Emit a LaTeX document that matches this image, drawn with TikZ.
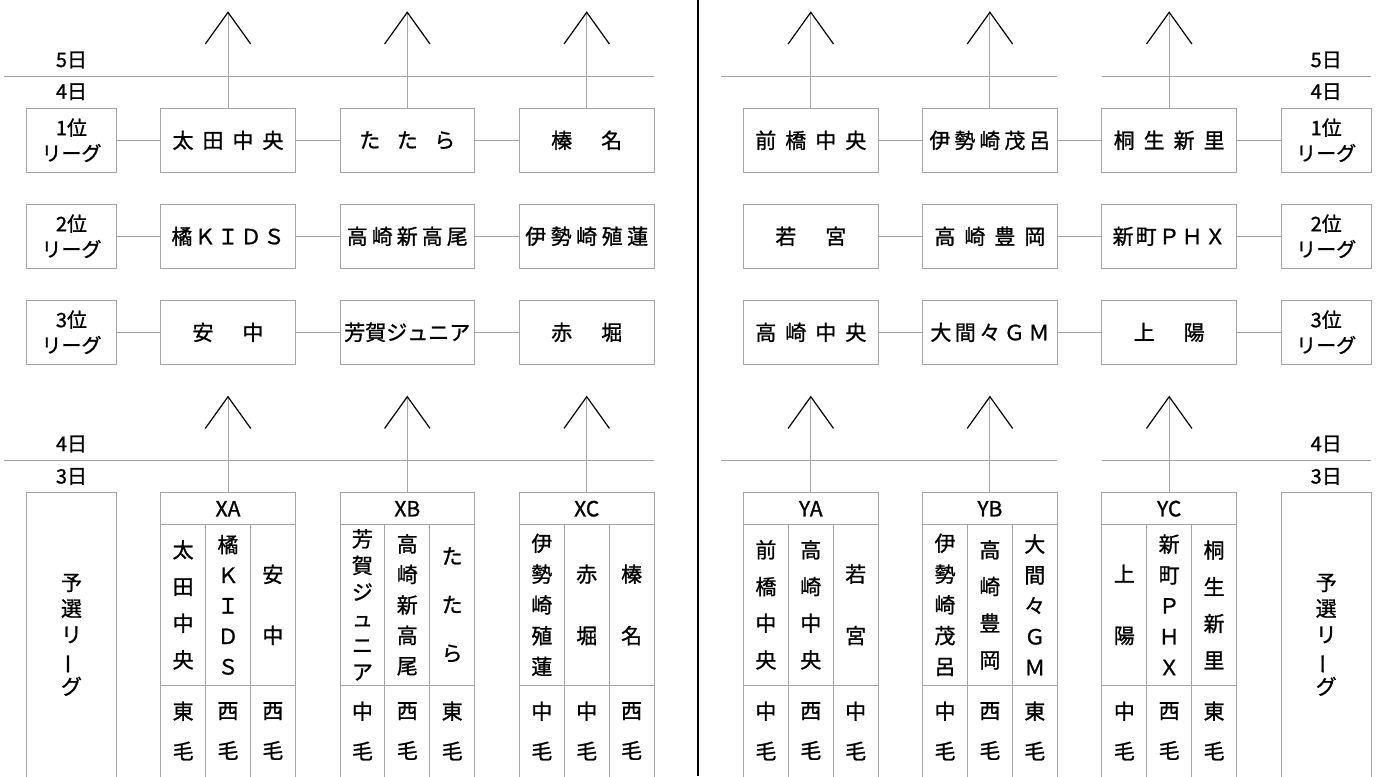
\documentclass[tikz,border=0pt]{standalone}
\usepackage{fontspec}
\setmainfont{Noto Sans CJK JP}[FakeBold=1]
\usepackage{graphicx}
\definecolor{ln}{RGB}{165,165,165}
\newcommand\spc[2]{\def\spcgap{#1}\spcfirst#2\relax}
\def\spcfirst#1{#1\spcloop}
\def\spcloop#1{\ifx#1\relax\else\kern\spcgap pt\relax#1\expandafter\spcloop\fi}
\newcommand\vbar{\rotatebox[origin=c]{90}{ー}}
\tikzset{
 box/.style={draw=ln, line width=1pt, minimum width=134.6pt, minimum height=64pt, inner sep=0pt, font=\fontsize{21}{25}\selectfont},
 lab/.style={draw=ln, line width=1pt, minimum width=89.6pt, minimum height=64pt, inner sep=0pt, align=center, font=\fontsize{20}{25.5}\selectfont},
 conn/.style={draw=ln, line width=1pt},
 chev/.style={draw=black, line width=1.2pt},
 day/.style={font=\fontsize{20}{22}\selectfont, inner sep=0pt},
 hdr/.style={draw=ln, line width=1pt, minimum width=134.6pt, minimum height=32pt, inner sep=0pt, font=\fontsize{21}{24}\selectfont},
 cell/.style={draw=ln, line width=1pt, minimum width=44.87pt, minimum height=160.3pt, inner sep=0pt, align=center},
 vc/.style={font=\fontsize{21}{#1}\selectfont},
 bcell/.style={draw=ln, line width=1pt, minimum width=44.87pt, minimum height=92pt, inner sep=0pt, align=center, font=\fontsize{21}{40}\selectfont},
 pre/.style={draw=ln, line width=1pt, minimum width=89.6pt, minimum height=284.3pt, inner sep=0pt, align=center, font=\fontsize{21}{26}\selectfont},
}
\newcommand\mktable[9]{%
 \node[hdr] (#1) at (#2,508.7) {#3};
 \node[cell,vc=#4] (#1-1) at ({#2-44.87},604.85) {#5};
 \node[cell,vc=#6] (#1-2) at (#2,604.85) {#7};
 \node[cell,vc=#8] (#1-3) at ({#2+44.87},604.85) {#9};
}
\newcommand\mkbot[5]{%
 \node[bcell] (#1-b1) at ({#2-44.87},731) {#3};
 \node[bcell] (#1-b2) at (#2,731) {#4};
 \node[bcell] (#1-b3) at ({#2+44.87},731) {#5};
}
\newcommand\mkarrow[3]{% #1 name of start node, #2 x, #3 apex y
 \coordinate (#1-apex) at (#2,#3);
 \draw[conn] (#1.north) -- (#1-apex);
 \draw[chev] ([shift={(-22.7,31.7)}]#1-apex) -- (#1-apex) -- ([shift={(22.7,31.7)}]#1-apex);
}
\begin{document}
\begin{tikzpicture}[x=1pt,y=-1pt]
\useasboundingbox (0,0) rectangle (1383,776);
\clip (0,0) rectangle (1383,776);
\fill[white] (0,0) rectangle (1383,776);

% divider
\coordinate (VT) at (698.3,0);
\coordinate (VB) at (698.3,776);
\draw[black, line width=2pt] (VT) -- (VB);

% date lines
\coordinate (LT1) at (4,76.3);    \coordinate (LT2) at (654,76.3);
\coordinate (LB1) at (4,460.3);   \coordinate (LB2) at (654,460.3);
\coordinate (RT1) at (721,76.3);  \coordinate (RT2) at (1057.3,76.3);
\coordinate (RT3) at (1102,76.3); \coordinate (RT4) at (1370.7,76.3);
\coordinate (RB1) at (721,460.3); \coordinate (RB2) at (1057.3,460.3);
\coordinate (RB3) at (1102,460.3);\coordinate (RB4) at (1370.7,460.3);
\draw[conn] (LT1) -- (LT2);
\draw[conn] (LB1) -- (LB2);
\draw[conn] (RT1) -- (RT2);
\draw[conn] (RT3) -- (RT4);
\draw[conn] (RB1) -- (RB2);
\draw[conn] (RB3) -- (RB4);

% date labels
\node[day] (d5L) at (71.5,60) {5日};
\node[day] (d4L) at (71.5,91.7) {4日};
\node[day] (d4Lb) at (71.5,444) {4日};
\node[day] (d3L) at (71.5,476.5) {3日};
\node[day] (d5R) at (1326.2,60) {5日};
\node[day] (d4R) at (1326.2,91.7) {4日};
\node[day] (d4Rb) at (1326.2,444) {4日};
\node[day] (d3R) at (1326.2,476.5) {3日};

% left final rows
\node[lab] (LL1) at (71.5,140.3) {1位\\リーグ};
\node[lab] (LL2) at (71.5,236.3) {2位\\リーグ};
\node[lab] (LL3) at (71.5,332.3) {3位\\リーグ};
\node[box] (L11) at (228,140.3) {\spc{9}{太田中央}};
\node[box] (L12) at (407.3,140.3) {\spc{16.5}{たたら}};
\node[box] (L13) at (586.7,140.3) {\spc{4}{榛　名}};
\node[box] (L21) at (228,236.3) {\spc{2}{橘ＫＩＤＳ}};
\node[box] (L22) at (407.3,236.3) {\spc{4}{高崎新高尾}};
\node[box] (L23) at (586.7,236.3) {\spc{4.5}{伊勢崎殖蓮}};
\node[box] (L31) at (228,332.3) {\spc{4}{安　中}};
\node[box] (L32) at (407.3,332.3) {\spc{0}{芳賀ジュニア}};
\node[box] (L33) at (586.7,332.3) {\spc{4}{赤　堀}};
\foreach \r in {1,2,3}{
 \draw[conn] (LL\r) -- (L\r1);
 \draw[conn] (L\r1) -- (L\r2);
 \draw[conn] (L\r2) -- (L\r3);
}

% right final rows
\node[box] (R11) at (810.8,140.3) {\spc{9}{前橋中央}};
\node[box] (R12) at (989.9,140.3) {\spc{4}{伊勢崎茂呂}};
\node[box] (R13) at (1169.2,140.3) {\spc{9}{桐生新里}};
\node[box] (R21) at (810.8,236.3) {\spc{4}{若　宮}};
\node[box] (R22) at (989.9,236.3) {\spc{9}{高崎豊岡}};
\node[box] (R23) at (1169.2,236.3) {\spc{2}{新町ＰＨＸ}};
\node[box] (R31) at (810.8,332.3) {\spc{9}{高崎中央}};
\node[box] (R32) at (989.9,332.3) {\spc{3.5}{大間々ＧＭ}};
\node[box] (R33) at (1169.2,332.3) {\spc{4}{上　陽}};
\node[lab] (RL1) at (1326.2,140.3) {1位\\リーグ};
\node[lab] (RL2) at (1326.2,236.3) {2位\\リーグ};
\node[lab] (RL3) at (1326.2,332.3) {3位\\リーグ};
\foreach \r in {1,2,3}{
 \draw[conn] (R\r1) -- (R\r2);
 \draw[conn] (R\r2) -- (R\r3);
 \draw[conn] (R\r3) -- (RL\r);
}

% top arrows
\mkarrow{L11}{228}{12.3}
\mkarrow{L12}{407.3}{12.3}
\mkarrow{L13}{586.7}{12.3}
\mkarrow{R11}{810.8}{12.3}
\mkarrow{R12}{989.9}{12.3}
\mkarrow{R13}{1169.2}{12.3}

% preliminary league boxes
\node[pre] (PL) at (71.5,634.85) {予\\選\\リ\\\vbar\\グ};
\node[pre] (PR) at (1326.2,634.85) {予\\選\\リ\\\vbar\\グ};

% tables
\mktable{XA}{228}{XA}{36.7}{太\\田\\中\\央}{30.5}{橘\\Ｋ\\Ｉ\\Ｄ\\Ｓ}{61}{安\\中}
\mktable{XB}{407.3}{XB}{26.6}{芳\\賀\\ジ\\ュ\\ニ\\ア}{30.5}{高\\崎\\新\\高\\尾}{48.5}{た\\た\\ら}
\mktable{XC}{586.7}{XC}{30.8}{伊\\勢\\崎\\殖\\蓮}{61.5}{赤\\堀}{61.5}{榛\\名}
\mktable{YA}{810.8}{YA}{36.7}{前\\橋\\中\\央}{36.7}{高\\崎\\中\\央}{61.5}{若\\宮}
\mktable{YB}{989.9}{YB}{30.8}{伊\\勢\\崎\\茂\\呂}{36.7}{高\\崎\\豊\\岡}{30.8}{大\\間\\々\\Ｇ\\Ｍ}
\mktable{YC}{1169.2}{YC}{61.5}{上\\陽}{30.8}{新\\町\\Ｐ\\Ｈ\\Ｘ}{36.7}{桐\\生\\新\\里}
\mkbot{XA}{228}{東\\毛}{西\\毛}{西\\毛}
\mkbot{XB}{407.3}{中\\毛}{西\\毛}{東\\毛}
\mkbot{XC}{586.7}{中\\毛}{中\\毛}{西\\毛}
\mkbot{YA}{810.8}{中\\毛}{西\\毛}{中\\毛}
\mkbot{YB}{989.9}{中\\毛}{西\\毛}{東\\毛}
\mkbot{YC}{1169.2}{中\\毛}{西\\毛}{東\\毛}

% lower arrows
\mkarrow{XA}{228}{396.7}
\mkarrow{XB}{407.3}{396.7}
\mkarrow{XC}{586.7}{396.7}
\mkarrow{YA}{810.8}{396.7}
\mkarrow{YB}{989.9}{396.7}
\mkarrow{YC}{1169.2}{396.7}
\end{tikzpicture}
\end{document}
